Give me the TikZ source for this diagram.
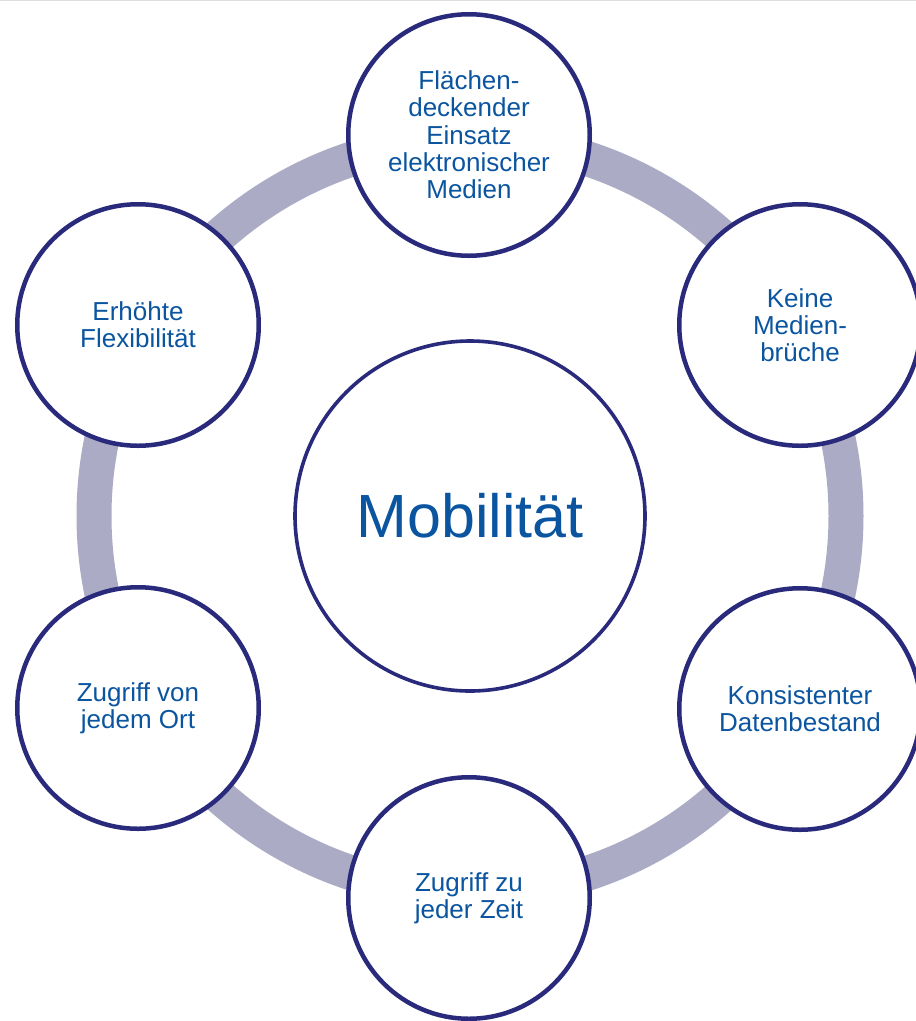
\documentclass[tikz,border=0pt]{standalone}
\usepackage{fontspec}
\setmainfont{Liberation Sans}
\definecolor{txtblue}{HTML}{0B55A0}
\definecolor{navy}{HTML}{2A2A7C}
\definecolor{ringgray}{HTML}{ABABC6}
\begin{document}
\begin{tikzpicture}[x=1pt,y=-1pt,
  outer/.style={circle,draw=navy,line width=4.5pt,fill=white,minimum size=241.5pt,inner sep=0pt,
    align=center,text=txtblue,font=\fontsize{26}{27.3}\selectfont},
  core/.style={circle,draw=navy,line width=3.6pt,fill=white,minimum size=350pt,inner sep=0pt,
    text=txtblue,font=\fontsize{61}{70}\selectfont}]
\path[use as bounding box] (0,0) rectangle (916,1021);
\clip (0,0) rectangle (916,1021);
\fill[white] (0,0) rectangle (916,1021);
\draw[gray!25,line width=1pt] (0,0.5) -- (916,0.5);
\coordinate (c) at (470,516);
\draw[ringgray,line width=35pt] (c) circle[radius=376pt];
\node[core] (m) at (c) {Mobilität};
\node[outer] (n1) at (469,135) {Flächen-\\deckender\\Einsatz\\elektronischer\\Medien};
\node[outer] (n2) at (800,325) {Keine\\Medien-\\brüche};
\node[outer] (n3) at (800,709) {Konsistenter\\Datenbestand};
\node[outer] (n4) at (469,898) {Zugriff zu\\jeder Zeit};
\node[outer] (n5) at (138,708) {Zugriff von\\jedem Ort};
\node[outer] (n6) at (138,325) {Erhöhte\\Flexibilität};
\end{tikzpicture}
\end{document}
